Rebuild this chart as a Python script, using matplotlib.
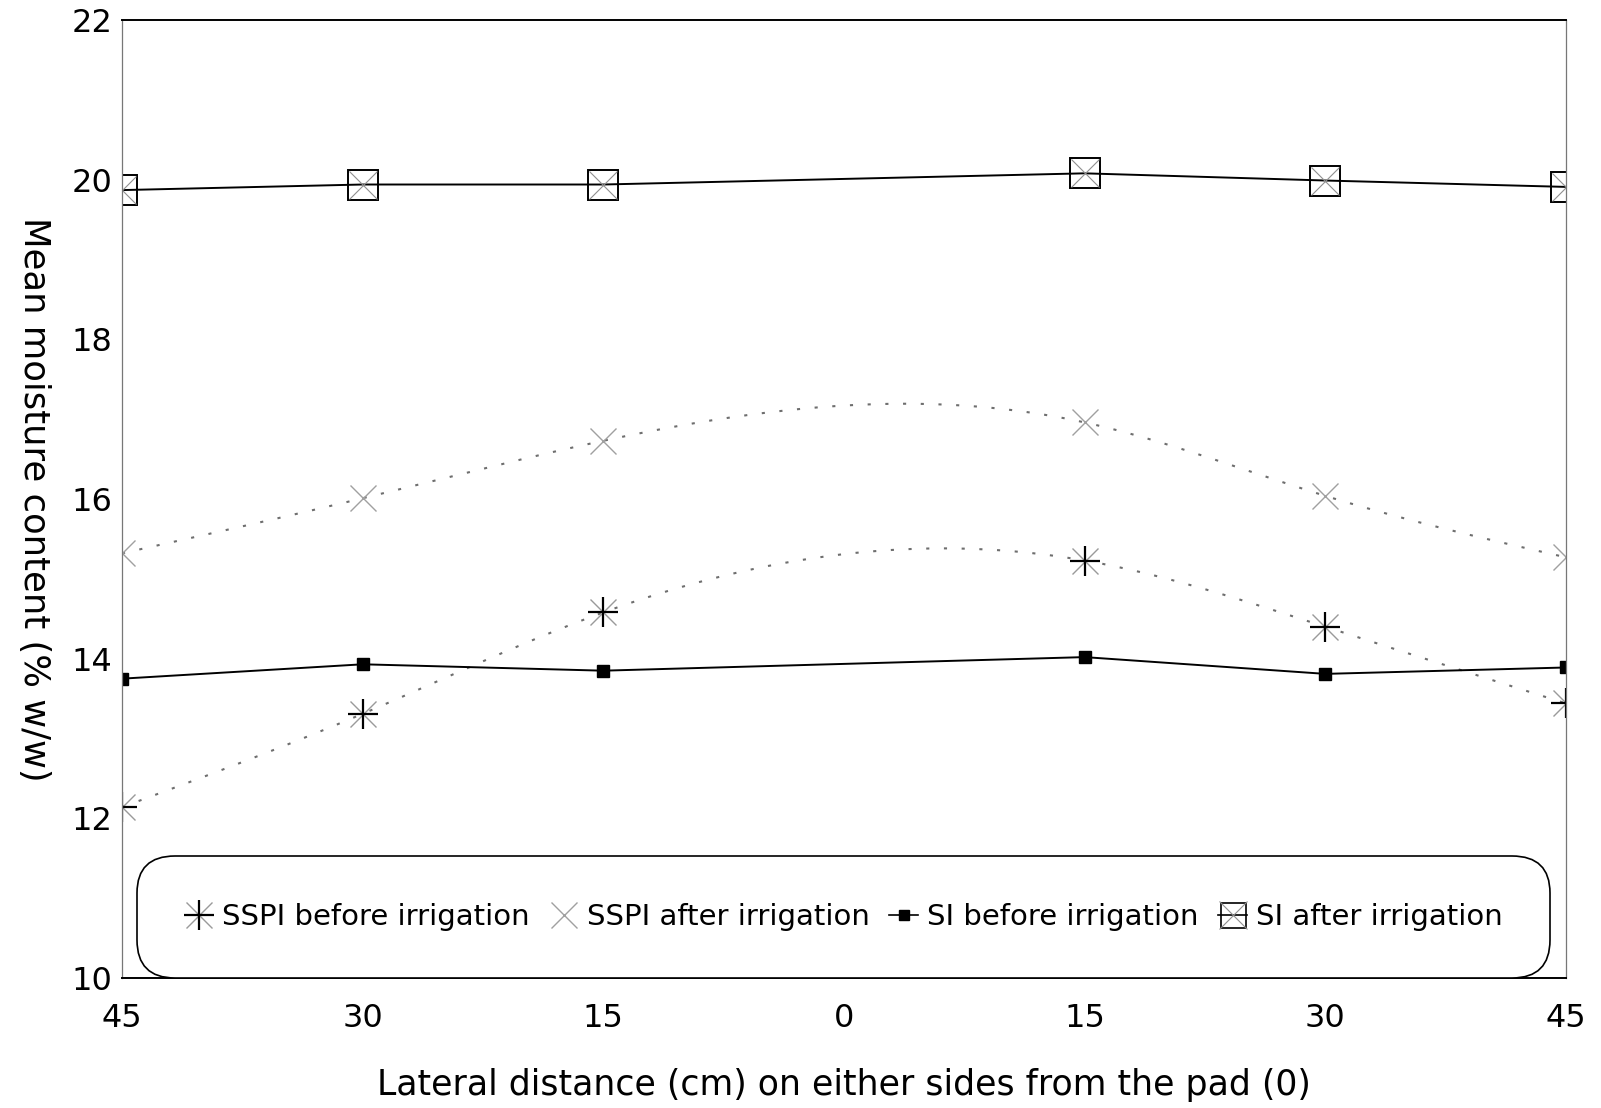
import numpy as np
import matplotlib
matplotlib.use("Agg")
import matplotlib.pyplot as plt

plt.rcParams['font.family'] = ['DejaVu Sans']

# lateral positions (0 = pad), plotted at slots 0..6
tick_labels = ['45', '30', '15', '0', '15', '30', '45']
x_pos = [0, 1, 2, 4, 5, 6]

sspi_before = [12.14, 13.31, 14.58, 15.23, 14.40, 13.44]
sspi_after = [15.32, 16.01, 16.73, 16.96, 16.04, 15.27]
si_before = [13.75, 13.93, 13.85, 14.02, 13.81, 13.89]
si_after = [19.87, 19.94, 19.94, 20.08, 19.99, 19.91]


def smooth(x, y, n=300):
    # natural cubic spline, only used to draw the curved dotted lines
    x = np.asarray(x, float)
    y = np.asarray(y, float)
    k = len(x)
    h = np.diff(x)
    A = np.zeros((k, k))
    b = np.zeros(k)
    A[0, 0] = A[-1, -1] = 1
    for i in range(1, k - 1):
        A[i, i - 1] = h[i - 1]
        A[i, i] = 2 * (h[i - 1] + h[i])
        A[i, i + 1] = h[i]
        b[i] = 6 * ((y[i + 1] - y[i]) / h[i] - (y[i] - y[i - 1]) / h[i - 1])
    M = np.linalg.solve(A, b)
    xs = np.linspace(x[0], x[-1], n)
    idx = np.clip(np.searchsorted(x, xs) - 1, 0, k - 2)
    x0, x1 = x[idx], x[idx + 1]
    hh = x1 - x0
    t0, t1 = x1 - xs, xs - x0
    ys = (M[idx] * t0 ** 3 + M[idx + 1] * t1 ** 3) / (6 * hh) \
        + (y[idx] / hh - M[idx] * hh / 6) * t0 \
        + (y[idx + 1] / hh - M[idx + 1] * hh / 6) * t1
    return xs, ys


fig = plt.figure(figsize=(16.01, 11.08), dpi=100)
ax = fig.add_axes([0.0762, 0.1173, 0.9019, 0.8646])

dots = (0, (1.5, 7))
grey = '#6e6e6e'

# SSPI before irrigation
xs, ys = smooth(x_pos, sspi_before)
ax.plot(xs, ys, color=grey, lw=1.5, ls=dots)
m1a, = ax.plot(x_pos, sspi_before, ls='none', marker='x', ms=19, mew=1.0, color='#9a9a9a')
m1b, = ax.plot(x_pos, sspi_before, ls='none', marker='+', ms=21, mew=1.6, color='black')

# SSPI after irrigation
xs, ys = smooth(x_pos, sspi_after)
ax.plot(xs, ys, color=grey, lw=1.5, ls=dots)
m2, = ax.plot(x_pos, sspi_after, ls='none', marker='x', ms=19, mew=1.0, color='#a0a0a0')

# SI before irrigation
ax.plot(x_pos, si_before, ls='-', marker='s', ms=8, color='black', lw=1.4)

# SI after irrigation
ax.plot(x_pos, si_after, ls='-', color='black', lw=1.4)
ax.plot(x_pos, si_after, ls='none', marker='s', ms=21, mfc='none', mec='black', mew=1.4)
m4b, = ax.plot(x_pos, si_after, ls='none', marker='x', ms=20, mew=0.8, color='#909090')

# legend proxies with a short line for the SI entries
h3, = ax.plot([], [], ls='-', marker='s', ms=7, color='black', lw=1.2)
h4, = ax.plot([], [], ls='-', marker='s', ms=18, mfc='none', mec='black', mew=1.2, color='black', lw=1.2)

ax.set_xlim(0, 6)
ax.set_ylim(10, 22)
ax.set_xticks(range(7))
ax.set_xticklabels(tick_labels)
ax.set_yticks(np.arange(10, 23, 2))
ax.tick_params(length=0, labelsize=23)
ax.tick_params(axis='x', pad=18)
ax.tick_params(axis='y', pad=7)

for s in ['top', 'bottom']:
    ax.spines[s].set_linewidth(1.4)
for s in ['left', 'right']:
    ax.spines[s].set_linewidth(0.9)
    ax.spines[s].set_color('#777777')

xl = ax.set_xlabel('Lateral distance (cm) on either sides from the pad (0)', fontsize=25)
ax.xaxis.set_label_coords(0.5, -0.112)
xl.set_va('center')

yl = ax.set_ylabel('Mean moisture content (% w/w)', fontsize=25.5, rotation=270)
yl.set_rotation_mode('default')
yl.set_va('center')
yl.set_ha('center')
ax.yaxis.set_label_coords(-0.061, 0.5)

leg = ax.legend([(m1a, m1b), m2, h3, (h4, m4b)],
                ['SSPI before irrigation', 'SSPI after irrigation',
                 'SI before irrigation', 'SI after irrigation'],
                ncol=4, loc='lower left', bbox_to_anchor=(0.0104, 0.0, 0.9785, 0.13),
                mode='expand', borderaxespad=0, borderpad=1.62, handlelength=1.0,
                handletextpad=0.3, fontsize=21, fancybox=True, framealpha=1)
frame = leg.get_frame()
frame.set_boxstyle('round', pad=0, rounding_size=1.3)
frame.set_edgecolor('black')
frame.set_linewidth(1.2)

fig.savefig('out.png', dpi=100)
